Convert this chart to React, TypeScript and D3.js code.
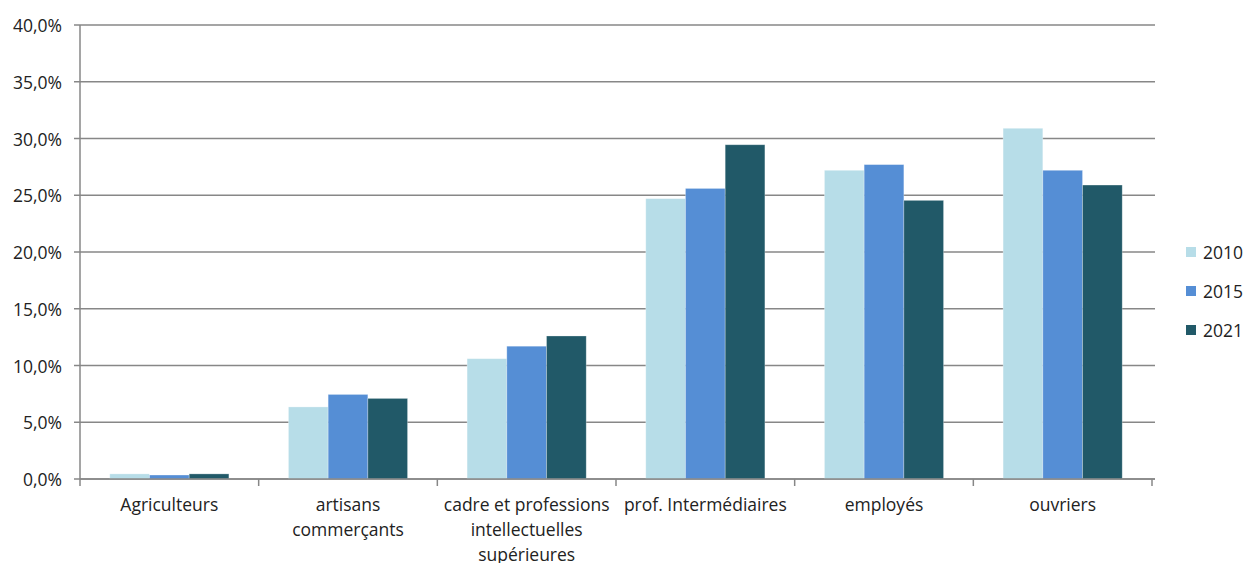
import React from "react";
import * as d3 from "d3";

const categories: string[][] = [
  ["Agriculteurs"],
  ["artisans", "commerçants"],
  ["cadre et professions", "intellectuelles", "supérieures"],
  ["prof. Intermédiaires"],
  ["employés"],
  ["ouvriers"],
];
const seriesNames = ["2010", "2015", "2021"];
const values2010 = [0.45, 6.35, 10.6, 24.7, 27.2, 30.9];
const values2015 = [0.35, 7.45, 11.7, 25.6, 27.7, 27.2];
const values2021 = [0.45, 7.1, 12.6, 29.45, 24.55, 25.9];
const yTicks = [0, 5, 10, 15, 20, 25, 30, 35, 40];
const colors = ["#B7DDE8", "#558ED5", "#215968"];

export default function App() {
  const W = 1248, H = 563;
  const left = 80, right = 1152, top = 25, bottom = 479;
  const series = [values2010, values2015, values2021];
  const x = d3.scaleBand<number>().domain(d3.range(categories.length)).range([left, right]);
  const bw = x.bandwidth();
  const barW = bw / 4.5;
  const y = d3.scaleLinear().domain([0, 40]).range([bottom, top]);
  const font = "'Open Sans', 'Noto Sans', sans-serif";
  const fs = 17.5;
  const fmt = (v: number) => v.toFixed(1).replace(".", ",") + "%";
  return (
    <svg width={W} height={H} style={{ position: "absolute", left: 0, top: 0, background: "#fff" }} fontFamily={font}>
      {yTicks.map((t) => (
        <g key={t}>
          <line x1={left - 6} x2={1155} y1={y(t)} y2={y(t)} stroke="#878787" strokeWidth={1.5} />
          <text x={62} y={y(t)} textAnchor="end" dominantBaseline="central" fontSize={fs} fill="#222">{fmt(t)}</text>
        </g>
      ))}
      {series.map((vals, si) =>
        vals.map((v, ci) => {
          const x0 = (x(ci) as number) + (bw - 3 * barW) / 2 + si * barW;
          return (
            <rect key={si + "-" + ci} x={x0} y={y(v)} width={barW} height={bottom - y(v)} fill={colors[si]} stroke="#ffffff" strokeOpacity={0.35} strokeWidth={0.8} />
          );
        })
      )}
      <line x1={left} x2={left} y1={top} y2={bottom} stroke="#878787" strokeWidth={1.5} />
      <line x1={left} x2={1155} y1={bottom} y2={bottom} stroke="#878787" strokeWidth={1.5} />
      {d3.range(categories.length + 1).map((i) => {
        const xx = left + i * bw;
        return <line key={i} x1={xx} x2={xx} y1={bottom} y2={bottom + 7} stroke="#878787" strokeWidth={1.5} />;
      })}
      {categories.map((lines, ci) => (
        <text key={ci} x={(x(ci) as number) + bw / 2} textAnchor="middle" fontSize={fs} fill="#222">
          {lines.map((l, li) => (
            <tspan key={li} x={(x(ci) as number) + bw / 2} y={511 + li * 25}>{l}</tspan>
          ))}
        </text>
      ))}
      {seriesNames.map((s, i) => (
        <g key={s}>
          <rect x={1186} y={247 + i * 39} width={10} height={10} fill={colors[i]} />
          <text x={1203} y={252 + i * 39} dominantBaseline="central" fontSize={fs} fill="#222">{s}</text>
        </g>
      ))}
    </svg>
  );
}
